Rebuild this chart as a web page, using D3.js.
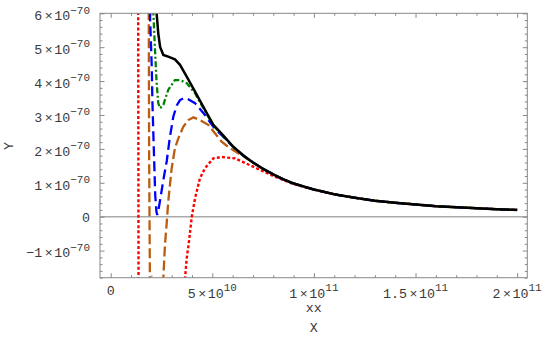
<!DOCTYPE html>
<html>
<head>
<meta charset="utf-8">
<script src="https://cdn.jsdelivr.net/npm/d3@7"></script>
<style>
body { margin: 0; background: #fff; }
svg text { font-family: "Liberation Mono", "DejaVu Sans Mono", monospace; fill: #3a3a3a; }
</style>
</head>
<body>
<svg id="chart" width="548" height="339"></svg>
<script>
// x in units of 1e10, y in units of 1e-70
var xTickVals = [0, 5, 10, 15, 20];
var xTickMant = ["0", "5", "1", "1.5", "2"];
var xTickExp  = [null, "10", "11", "11", "11"];
var yTickVals = [-1, 0, 1, 2, 3, 4, 5, 6];
var yTickMant = ["\u22121", "0", "1", "2", "3", "4", "5", "6"];
var yTickExp  = ["\u221270", null, "\u221270", "\u221270", "\u221270", "\u221270", "\u221270", "\u221270"];

// common tail that all curves share for large x
var tail = [[7,1.6],[7.5,1.41],[8,1.25],[8.5,1.1],[9,0.98],[10,0.8],[11,0.66],[12,0.56],
            [13,0.47],[14,0.41],[15,0.36],[16,0.31],[17,0.28],[18,0.25],[19,0.22],[20,0.2]];

var redA = [[1.35,6.5],[1.37,-2.0]];
var redB = [[3.63,-2.0],[3.66,-1.8],[3.74,-1.23],[3.85,-0.74],[3.99,0],[4.15,0.54],[4.39,1.13],
            [4.64,1.43],[5.05,1.72],[5.46,1.76],[6.12,1.72],[7.1,1.45],[8,1.2],[9,0.96]];
var brownA = [[1.87,6.5],[1.89,2],[1.93,-2]];
var brownB = [[2.57,-2],[2.59,-1.8],[2.67,-0.83],[2.76,-0.15],[2.83,0.44],[3.0,1.43],[3.16,2.02],
              [3.33,2.32],[3.57,2.65],[3.82,2.85],[4.07,2.93],[4.39,2.85],[4.8,2.71],[5.46,2.21],
              [5.87,2.02],[6.5,1.79]];
var blue = [[1.92,6.5],[1.93,6.0],[2.02,4.42],[2.05,3.44],[2.10,2.41],[2.15,1.43],[2.19,0.64],
            [2.25,0.15],[2.29,0.05],[2.35,0.2],[2.43,0.49],[2.59,1.08],[2.76,1.65],[2.9,2.3],
            [3.08,2.95],[3.25,3.28],[3.41,3.44],[3.6,3.5],[3.74,3.49],[4.15,3.35],[4.64,3.0],
            [5.05,2.65],[5.5,2.38],[6,2.07],[6.5,1.81]];
var green = [[2.08,6.5],[2.10,6.0],[2.18,4.92],[2.26,3.94],[2.34,3.35],[2.43,3.2],[2.59,3.3],
             [2.83,3.74],[3.16,4.03],[3.41,4.03],[3.74,3.94],[4.15,3.64],[4.64,3.12],[5.05,2.69],
             [5.5,2.4],[6,2.08],[6.5,1.82]];
var black = [[2.22,6.5],[2.26,6.0],[2.34,5.41],[2.43,5.01],[2.59,4.77],[2.83,4.72],[3.16,4.64],
             [3.41,4.48],[3.74,4.13],[4.15,3.69],[4.64,3.15],[5.05,2.71],[5.5,2.42],[6,2.08],[6.5,1.82]];

var L = 100, R = 527.3, T = 13.3, B = 277.7;
var svg = d3.select('#chart');

var x = d3.scaleLinear().domain([-0.527, 20.5]).range([L, R]);
var y = d3.scaleLinear().domain([-1.8, 6]).range([B, T]);

svg.append("clipPath").attr("id", "clip")
  .append("rect").attr("x", L).attr("y", T).attr("width", R - L).attr("height", B - T);

// zero line
svg.append("line")
    .attr("x1", L).attr("x2", R)
    .attr("y1", y(0)).attr("y2", y(0))
    .attr("stroke", "#aaa").attr("stroke-width", 1.4);

var line = d3.line().x(d => x(d[0])).y(d => y(d[1]));
var series = [
    {d: redA, c: "#ff0000", dash: "3,2.2", w: 2.4},
    {d: redB.concat(tail.filter(p => p[0] >= 10)), c: "#ff0000", dash: "3,2.2", w: 2.4},
    {d: brownA, c: "#bb5c10", dash: "10,4", w: 2.3},
    {d: brownB.concat(tail), c: "#bb5c10", dash: "10,4", w: 2.3},
    {d: blue.concat(tail), c: "#0000ff", dash: "10,5", w: 2.3},
    {d: green.concat(tail), c: "#008000", dash: "6,2.5,2,2.5", w: 2.3},
    {d: black.concat(tail), c: "#000", dash: null, w: 2.5}
];
var g = svg.append("g").attr("clip-path", "url(#clip)");
g.selectAll("path.curve").data(series).enter()
  .append("path").classed("curve", true)
    .attr("d", s => line(s.d))
    .attr("fill", "none")
    .attr("stroke", s => s.c)
    .attr("stroke-width", s => s.w)
    .attr("stroke-dasharray", s => s.dash);

// frame and ticks
function ticks(axis, tx, ty) {
    var a = svg.append("g").attr("transform", "translate(" + tx + "," + ty + ")").call(axis);
    a.select(".domain").remove();
    a.selectAll("line").attr("stroke", "#888");
    return a;
}
var xMinor = d3.range(0, 21, 1).filter(v => v % 5 !== 0);
var yMinor = d3.range(-9, 31, 1).map(v => v / 5).filter(v => Math.abs(v - Math.round(v)) > 1e-6);
ticks(d3.axisBottom(x).tickValues(xTickVals).tickSize(-4.5).tickFormat(""), 0, B);
ticks(d3.axisBottom(x).tickValues(xMinor).tickSize(-2.5).tickFormat(""), 0, B);
ticks(d3.axisTop(x).tickValues(xTickVals).tickSize(-4.5).tickFormat(""), 0, T);
ticks(d3.axisTop(x).tickValues(xMinor).tickSize(-2.5).tickFormat(""), 0, T);
ticks(d3.axisLeft(y).tickValues(yTickVals).tickSize(-4.5).tickFormat(""), L, 0);
ticks(d3.axisLeft(y).tickValues(yMinor).tickSize(-2.5).tickFormat(""), L, 0);
ticks(d3.axisRight(y).tickValues(yTickVals).tickSize(-4.5).tickFormat(""), R, 0);
ticks(d3.axisRight(y).tickValues(yMinor).tickSize(-2.5).tickFormat(""), R, 0);

svg.append("rect")
    .attr("x", L).attr("y", T).attr("width", R - L).attr("height", B - T)
    .attr("fill", "none").attr("stroke", "#888").attr("stroke-width", 1);

// tick labels with superscripts
function label(sel, mant, exp) {
    sel.append("tspan").text(mant);
    if (exp) {
        sel.append("tspan").text("\u00d7").attr("dx", 2.5);
        sel.append("tspan").text("10").attr("dx", 1.5);
        sel.append("tspan").text(exp).attr("dy", -6.5).attr("font-size", 11);
    }
}
xTickVals.forEach((v, i) => {
    var t = svg.append("text")
        .attr("x", x(v) + (xTickExp[i] ? 0 : 0)).attr("y", xTickExp[i] ? 297.5 : 294.5)
        .attr("font-size", 13.3)
        .style("text-anchor", "middle");
    label(t, xTickMant[i], xTickExp[i]);
});
yTickVals.forEach((v, i) => {
    var t = svg.append("text")
        .attr("x", 90).attr("y", y(v) + (yTickExp[i] ? 6.8 : 5))
        .attr("font-size", 13.3)
        .style("text-anchor", "end");
    label(t, yTickMant[i], yTickExp[i]);
});

// axis titles
svg.append("text").attr("x", (L + R) / 2).attr("y", 312)
    .attr("font-size", 13.3).style("text-anchor", "middle").text("xx");
svg.append("text").attr("x", (L + R) / 2).attr("y", 332)
    .attr("font-size", 13.3).style("text-anchor", "middle").text("X");
svg.append("text").attr("transform", "translate(13,146) rotate(-90)")
    .attr("font-size", 13.3).style("text-anchor", "middle").text("Y");
</script>
</body>
</html>
